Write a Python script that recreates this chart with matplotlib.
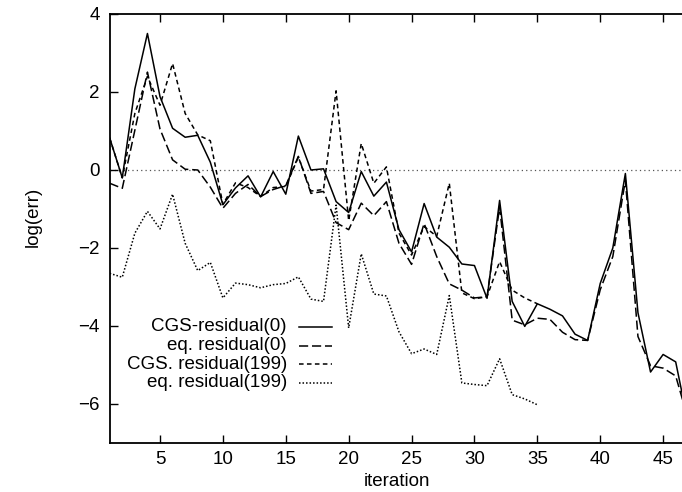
import matplotlib
matplotlib.use("Agg")
import matplotlib.pyplot as plt
from matplotlib.lines import Line2D
import numpy as np

plt.rcParams['font.family'] = ['Liberation Sans', 'DejaVu Sans']

iter_long = list(range(1, 48))
iter_short = list(range(1, 36))

cgs_res0 = [0.82, -0.2, 2.08, 3.5, 1.88, 1.07, 0.84, 0.89, 0.2, -0.89,
            -0.46, -0.15, -0.69, -0.04, -0.62, 0.87, 0.0, 0.03, -0.81, -1.09,
            -0.04, -0.67, -0.31, -1.53, -2.1, -0.86, -1.72, -1.98, -2.41, -2.45,
            -3.29, -0.78, -3.37, -4.01, -3.43, -3.57, -3.74, -4.21, -4.37, -2.91,
            -2.0, -0.09, -3.66, -5.18, -4.73, -4.92, -6.5]
eq_res0 = [-0.34, -0.47, 1.02, 2.51, 1.05, 0.26, 0.02, 0.0, -0.44, -0.98,
           -0.6, -0.37, -0.68, -0.5, -0.4, 0.35, -0.6, -0.55, -1.35, -1.53,
           -0.85, -1.17, -0.81, -1.88, -2.42, -1.37, -2.22, -2.92, -3.08, -3.28,
           -3.25, -0.95, -3.85, -3.97, -3.8, -3.83, -4.16, -4.35, -4.37, -3.07,
           -2.22, -0.26, -4.27, -5.02, -5.08, -5.28, -6.4]
cgs_res199 = [0.82, -0.2, 1.45, 2.4, 1.66, 2.73, 1.45, 0.9, 0.75, -0.88,
              -0.33, -0.45, -0.68, -0.45, -0.42, 0.33, -0.54, -0.5, 2.03, -1.3,
              0.68, -0.34, 0.08, -1.62, -2.18, -1.45, -1.7, -0.34, -3.15, -3.3,
              -3.25, -2.35, -3.08, -3.28, -3.43]
eq_res199 = [-2.65, -2.75, -1.62, -1.06, -1.51, -0.62, -1.88, -2.58, -2.37, -3.28,
             -2.9, -2.94, -3.02, -2.94, -2.91, -2.74, -3.31, -3.37, -0.9, -4.05,
             -2.15, -3.18, -3.23, -4.15, -4.71, -4.59, -4.73, -3.22, -5.46, -5.5,
             -5.53, -4.84, -5.76, -5.87, -6.02]

labels = ["CGS-residual(0)", "eq. residual(0)", "CGS. residual(199)", "eq. residual(199)"]
xticks = [5, 10, 15, 20, 25, 30, 35, 40, 45]
yticks = [-6, -4, -2, 0, 2, 4]

W, H = 682, 492
fig = plt.figure(figsize=(W / 100, H / 100), dpi=100)

left_px, right_px, top_px, bot_px = 109.7, 726.0, 14.0, 443.0
ax = fig.add_axes([left_px / W, 1 - bot_px / H, (right_px - left_px) / W, (bot_px - top_px) / H])

styles = [
    dict(color='black', lw=1.1, linestyle='-'),
    dict(color='black', lw=1.1, linestyle=(0, (6, 2.5))),
    dict(color='black', lw=1.1, linestyle=(0, (3, 2.2))),
    dict(color='black', lw=1.1, linestyle=(0, (1, 1.3))),
]

ax.axhline(0, color='#555555', lw=0.9, linestyle=(0, (1, 2.5)), zorder=1)
ax.plot(iter_long, cgs_res0, **styles[0])
ax.plot(iter_long, eq_res0, **styles[1])
ax.plot(iter_short, cgs_res199, **styles[2])
ax.plot(iter_short, eq_res199, **styles[3])

ax.set_xlim(1, 50)
ax.set_ylim(-7, 4)
ax.set_xticks(xticks)
ax.set_yticks(yticks)
ax.tick_params(direction='in', length=6, width=1.0, labelsize=13.5,
               top=True, right=True)
ax.tick_params(axis='y', pad=7)
ax.tick_params(axis='x', pad=6)
for s in ax.spines.values():
    s.set_linewidth(1.3)

fig.text(397 / W, 1 - 482 / H, "iteration", ha='center', va='center', fontsize=13.5)
fig.text(33 / W, 1 - 217 / H, "log(err)", ha='center', va='center', rotation=90, fontsize=13.5)

# gnuplot-style legend: right-justified text followed by line sample
rows_px = [326.7, 345.7, 364.3, 382.7]
for lab, st, ypx in zip(labels, styles, rows_px):
    yf = 1 - ypx / H
    fig.text(287 / W, yf, lab, ha='right', va='center', fontsize=13.5)
    fig.add_artist(Line2D([299 / W, 332 / W], [yf, yf], transform=fig.transFigure, **st))

fig.savefig("out.png", dpi=100)
